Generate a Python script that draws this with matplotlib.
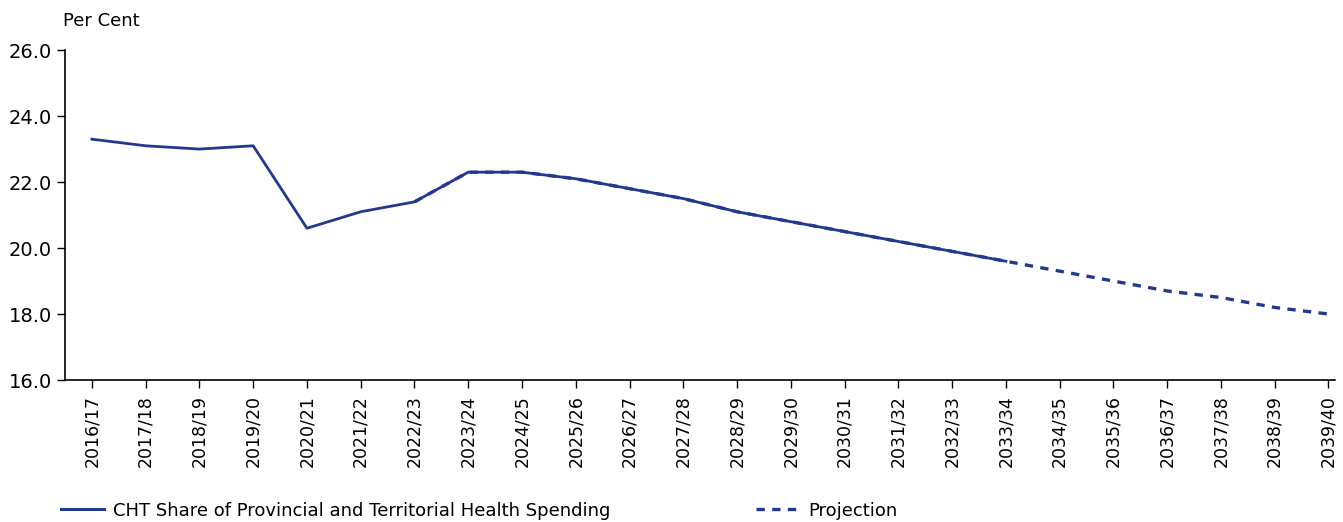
import matplotlib.pyplot as plt
from matplotlib.lines import Line2D

plt.rcParams['font.family'] = ['DejaVu Sans']

years = ["2016/17", "2017/18", "2018/19", "2019/20", "2020/21", "2021/22",
         "2022/23", "2023/24", "2024/25", "2025/26", "2026/27", "2027/28",
         "2028/29", "2029/30", "2030/31", "2031/32", "2032/33", "2033/34",
         "2034/35", "2035/36", "2036/37", "2037/38", "2038/39", "2039/40"]

# actual / main series (runs to 2033/34)
cht_share = [23.3, 23.1, 23.0, 23.1, 20.6, 21.1, 21.4, 22.3, 22.3, 22.1,
             21.8, 21.5, 21.1, 20.8, 20.5, 20.2, 19.9, 19.6]

# projection series (starts at 2022/23)
projection = [21.4, 22.3, 22.3, 22.1, 21.8, 21.5, 21.1, 20.8, 20.5, 20.2,
              19.9, 19.6, 19.3, 19.0, 18.7, 18.5, 18.2, 18.0]

color = "#22398f"
dash = (0, (2.5, 2.2))

fig = plt.figure(figsize=(13.43, 5.22), dpi=100)
ax = fig.add_axes([0.0484, 0.272, 0.946, 0.632])

x_main = list(range(len(cht_share)))
x_proj = list(range(6, 6 + len(projection)))

ax.plot(x_main, cht_share, color=color, lw=2.0)
ax.plot(x_proj, projection, color=color, lw=2.4, ls=dash)

ax.set_xlim(-0.5, 23.13)
ax.set_ylim(16, 26)
ax.set_yticks([16, 18, 20, 22, 24, 26])
ax.set_yticklabels([f"{v:.1f}" for v in [16, 18, 20, 22, 24, 26]], fontsize=14)
ax.set_xticks(range(len(years)))
ax.set_xticklabels(years, rotation=90, fontsize=12.5)
ax.tick_params(axis="both", length=6, width=1, color="black")
ax.tick_params(axis="x", pad=5)

for side in ["top", "right"]:
    ax.spines[side].set_visible(False)
for side in ["left", "bottom"]:
    ax.spines[side].set_linewidth(1.2)

fig.text(0.047, 0.96, "Per Cent", fontsize=13, ha="left", va="center")

handles = [Line2D([], [], color=color, lw=2.2),
           Line2D([], [], color=color, lw=2.4, ls=dash)]
fig.legend(handles[:1], ["CHT Share of Provincial and Territorial Health Spending"],
           loc="center left", bbox_to_anchor=(0.033, 0.022), frameon=False,
           fontsize=13, handlelength=2.4, handletextpad=0.5)
fig.legend(handles[1:], ["Projection"],
           loc="center left", bbox_to_anchor=(0.551, 0.022), frameon=False,
           fontsize=13, handlelength=2.4, handletextpad=0.5)

fig.savefig("out.png", dpi=100)
